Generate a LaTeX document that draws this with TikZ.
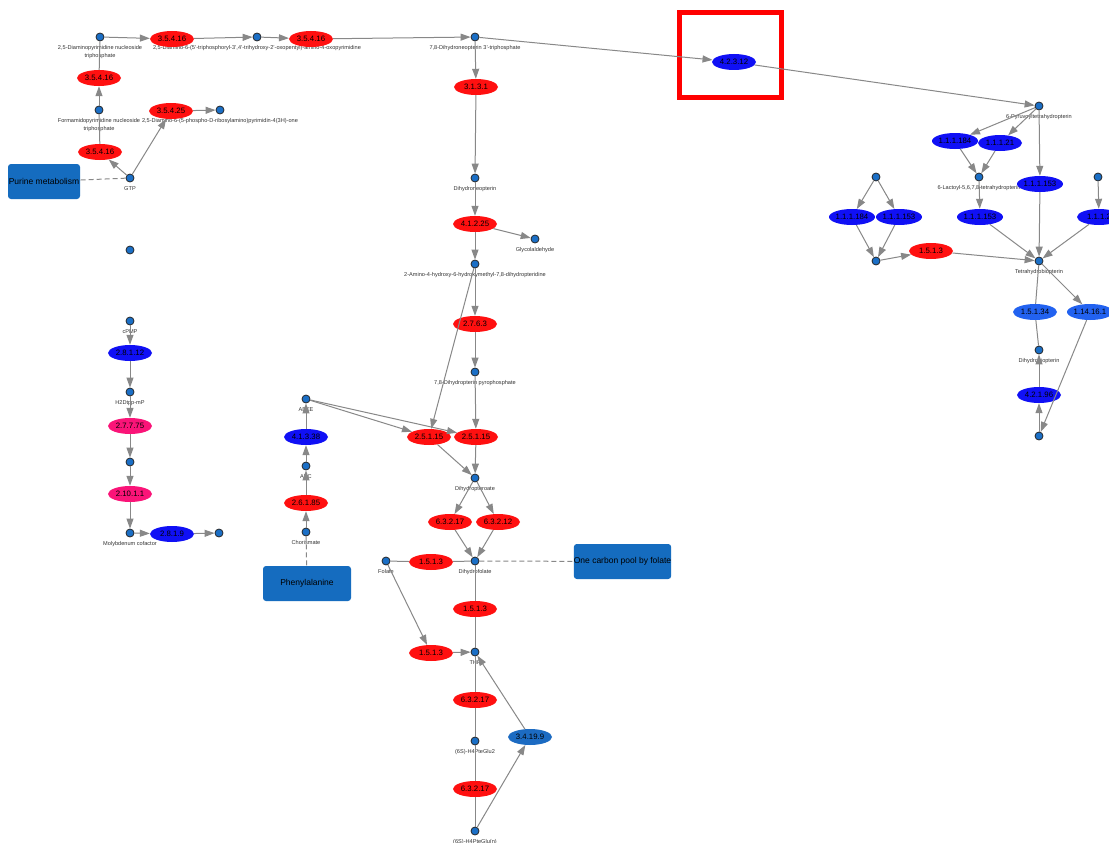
\documentclass[tikz,border=0pt]{standalone}
\usepackage{fontspec}
\setmainfont{Liberation Sans}
\usepackage{xcolor}
\usepackage{tikz}
\usetikzlibrary{arrows.meta,positioning,shapes.geometric}
\definecolor{enzred}{HTML}{FF1010}
\definecolor{enzblue}{HTML}{1010F5}
\definecolor{enzpink}{HTML}{FA1478}
\definecolor{enzroyal}{HTML}{2262F0}
\definecolor{enzsteel}{HTML}{1C6BC2}
\definecolor{cpdfill}{HTML}{1B6FC6}
\definecolor{mapfill}{HTML}{156CBF}
\definecolor{edgegray}{HTML}{888888}
\definecolor{labelgray}{HTML}{333333}

\begin{document}
\begin{tikzpicture}[x=1pt,y=-1pt,
  enz/.style={ellipse,minimum width=44pt,minimum height=16pt,inner sep=0pt,text=black,font=\fontsize{7.8}{8}\selectfont},
  ered/.style={enz,fill=enzred},
  eblue/.style={enz,fill=enzblue},
  epink/.style={enz,fill=enzpink},
  eroyal/.style={enz,fill=enzroyal},
  esteel/.style={enz,fill=enzsteel},
  cpd/.style={circle,draw=black!85,fill=cpdfill,line width=0.8pt,minimum size=8pt,inner sep=0pt},
  cpdlabel/.style={below=4pt of #1,inner sep=0pt,align=center,text=labelgray,font=\fontsize{5.6}{8}\selectfont},
  mapbox/.style={rounded corners=3pt,fill=mapfill,minimum height=35pt,inner sep=0pt,font=\fontsize{8.5}{10}\selectfont},
  rxn/.style={draw=edgegray,line width=1pt,-{Triangle[length=10pt,width=7pt]}},
  link/.style={draw=edgegray,line width=1pt},
  rel/.style={draw=edgegray,line width=1pt,dash pattern=on 5pt off 3pt},
]
\useasboundingbox[fill=white] (0,0) rectangle (1109,843);

% compounds
\node[cpd] (dapnt) at (100,37) {};
\node[cpdlabel=dapnt] (dapnt-l) {2,5-Diaminopyrimidine nucleoside\\triphosphate};
\node[cpd] (dadp) at (257,37) {};
\node[cpdlabel=dadp] (dadp-l) {2,5-Diamino-6-(5'-triphosphoryl-3',4'-trihydroxy-2'-oxopentyl)-amino-4-oxopyrimidine};
\node[cpd] (dhntp) at (475,37) {};
\node[cpdlabel=dhntp] (dhntp-l) {7,8-Dihydroneopterin 3'-triphosphate};
\node[cpd] (fapy) at (99,110) {};
\node[cpdlabel=fapy] (fapy-l) {Formamidopyrimidine nucleoside\\triphosphate};
\node[cpd] (darp) at (220,110) {};
\node[cpdlabel=darp] (darp-l) {2,5-Diamino-6-(5-phospho-D-ribosylamino)pyrimidin-4(3H)-one};
\node[cpd] (gtp) at (130,178) {};
\node[cpdlabel=gtp] (gtp-l) {GTP};
\node[cpd] (orphan) at (130,250) {};

\node[cpd] (cpmp) at (130,321) {};
\node[cpdlabel=cpmp] (cpmp-l) {cPMP};
\node[cpd] (h2dtpp) at (130,392) {};
\node[cpdlabel=h2dtpp] (h2dtpp-l) {H2Dtpp-mP};
\node[cpd] (mpt) at (130,462) {};
\node[cpd] (moco) at (130,533) {};
\node[cpdlabel=moco] (moco-l) {Molybdenum cofactor};
\node[cpd] (mocoout) at (219,533) {};

\node[cpd] (abee) at (306,399) {};
\node[cpdlabel=abee] (abee-l) {ABEE};
\node[cpd] (abc) at (306,466) {};
\node[cpdlabel=abc] (abc-l) {ABC};
\node[cpd] (chor) at (306,532) {};
\node[cpdlabel=chor] (chor-l) {Chorismate};

\node[cpd] (dhn) at (475,178) {};
\node[cpdlabel=dhn] (dhn-l) {Dihydroneopterin};
\node[cpd] (glyc) at (535,239) {};
\node[cpdlabel=glyc] (glyc-l) {Glycolaldehyde};
\node[cpd] (hmdp) at (475,264) {};
\node[cpdlabel=hmdp] (hmdp-l) {2-Amino-4-hydroxy-6-hydroxymethyl-7,8-dihydropteridine};
\node[cpd] (dhpp) at (475,372) {};
\node[cpdlabel=dhpp] (dhpp-l) {7,8-Dihydropterin pyrophosphate};
\node[cpd] (dhpt) at (475,478) {};
\node[cpdlabel=dhpt] (dhpt-l) {Dihydropteroate};
\node[cpd] (folate) at (386,561) {};
\node[cpdlabel=folate] (folate-l) {Folate};
\node[cpd] (dhf) at (475,561) {};
\node[cpdlabel=dhf] (dhf-l) {Dihydrofolate};
\node[cpd] (thf) at (475,652) {};
\node[cpdlabel=thf] (thf-l) {THF};
\node[cpd] (h4g2) at (475,741) {};
\node[cpdlabel=h4g2] (h4g2-l) {(6S)-H4PteGlu2};
\node[cpd] (h4gn) at (475,831) {};
\node[cpdlabel=h4gn] (h4gn-l) {(6S)-H4PteGlu(n)};

\node[cpd] (ptp) at (1039,106) {};
\node[cpdlabel=ptp] (ptp-l) {6-Pyruvoyltetrahydropterin};
\node[cpd] (lac) at (979,177) {};
\node[cpdlabel=lac] (lac-l) {6-Lactoyl-5,6,7,8-tetrahydropterin};
\node[cpd] (bh4) at (1039,261) {};
\node[cpdlabel=bh4] (bh4-l) {Tetrahydrobiopterin};
\node[cpd] (bh2) at (1039,350) {};
\node[cpdlabel=bh2] (bh2-l) {Dihydrobiopterin};
\node[cpd] (bh2src) at (1039,436) {};
\node[cpd] (lftop) at (876,177) {};
\node[cpd] (lfbot) at (876,261) {};
\node[cpd] (rttop) at (1098,177) {};

% enzymes
\node[ered] (ec35416a) at (172,39) {3.5.4.16};
\node[ered] (ec35416b) at (311,39) {3.5.4.16};
\node[ered] (ec35416c) at (99,78) {3.5.4.16};
\node[ered] (ec35416d) at (100,152) {3.5.4.16};
\node[ered] (ec35425) at (171,111) {3.5.4.25};

\node[eblue] (ec28112) at (130,353) {2.8.1.12};
\node[epink] (ec27775) at (130,426) {2.7.7.75};
\node[epink] (ec210111) at (130,494) {2.10.1.1};
\node[eblue] (ec2819) at (172,534) {2.8.1.9};

\node[eblue] (ec41338) at (306,437) {4.1.3.38};
\node[ered] (ec26185) at (306,503) {2.6.1.85};

\node[eblue] (ec42312) at (734,62) {4.2.3.12};
\node[ered] (ec3131) at (476,87) {3.1.3.1};
\node[ered] (ec41225) at (475,224) {4.1.2.25};
\node[ered] (ec2763) at (475,324) {2.7.6.3};
\node[ered] (ec25115a) at (429,437) {2.5.1.15};
\node[ered] (ec25115b) at (476,437) {2.5.1.15};
\node[ered] (ec63217a) at (450,522) {6.3.2.17};
\node[ered] (ec63212) at (498,522) {6.3.2.12};
\node[ered] (ec1513a) at (431,562) {1.5.1.3};
\node[ered] (ec1513b) at (475,609) {1.5.1.3};
\node[ered] (ec1513c) at (431,653) {1.5.1.3};
\node[ered] (ec63217b) at (475,700) {6.3.2.17};
\node[esteel] (ec34199) at (530,737) {3.4.19.9};
\node[ered] (ec63217c) at (475,789) {6.3.2.17};

\node[eblue] (ec111184a) at (955,141) {1.1.1.184};
\node[eblue] (ec11121) at (1000,143) {1.1.1.21};
\node[eblue] (ec111153a) at (1040,184) {1.1.1.153};
\node[eblue] (ec111153b) at (980,217) {1.1.1.153};
\node[eblue] (ec111184b) at (852,217) {1.1.1.184};
\node[eblue] (ec111153c) at (899,217) {1.1.1.153};
\node[eblue] (ec1112) at (1099,217) {1.1.1.2};
\node[ered] (ec1513d) at (931,251) {1.5.1.3};
\node[eroyal] (ec15134) at (1035,312) {1.5.1.34};
\node[eroyal] (ec114161) at (1090,312) {1.14.16.1};
\node[eblue] (ec42196) at (1039,395) {4.2.1.96};

% pathway maps
\node[mapbox,minimum width=72pt] (purine) at (44,181.5) {Purine metabolism};
\node[mapbox,minimum width=88pt] (phe) at (307,583.5) {Phenylalanine};
\node[mapbox,minimum width=93pt] (onecarbon) at (622.5,561.5) {One carbon pool by folate};

\node[draw=red,line width=5pt,minimum width=102pt,minimum height=85pt] (focus) at (730,55) {};

% purine branch
\draw[rel] (gtp) -- (purine);
\draw[rxn] (gtp) -- (ec35416d);
\draw[link] (ec35416d) -- (fapy);
\draw[rxn] (fapy) -- (ec35416c);
\draw[link] (ec35416c) -- (dapnt);
\draw[rxn] (gtp) -- (ec35425);
\draw[rxn] (ec35425) -- (darp);
\draw[rxn] (dapnt) -- (ec35416a);
\draw[rxn] (ec35416a) -- (dadp);
\draw[rxn] (dadp) -- (ec35416b);
\draw[rxn] (ec35416b) -- (dhntp);

% molybdenum cofactor
\draw[rxn] (cpmp) -- (ec28112);
\draw[rxn] (ec28112) -- (h2dtpp);
\draw[rxn] (h2dtpp) -- (ec27775);
\draw[rxn] (ec27775) -- (mpt);
\draw[rxn] (mpt) -- (ec210111);
\draw[rxn] (ec210111) -- (moco);
\draw[rxn] (moco) -- (ec2819);
\draw[rxn] (ec2819) -- (mocoout);

% chorismate to ABEE
\draw[rel] (chor) -- (phe);
\draw[rxn] (chor) -- (ec26185);
\draw[rxn] (ec26185) -- (abc);
\draw[rxn] (abc) -- (ec41338);
\draw[rxn] (ec41338) -- (abee);

% folate column
\draw[rxn] (dhntp) -- (ec3131);
\draw[rxn] (ec3131) -- (dhn);
\draw[rxn] (dhn) -- (ec41225);
\draw[rxn] (ec41225) -- (glyc);
\draw[rxn] (ec41225) -- (hmdp);
\draw[rxn] (hmdp) -- (ec2763);
\draw[rxn] (ec2763) -- (dhpp);
\draw[rxn] (hmdp) -- (ec25115a);
\draw[rxn] (dhpp) -- (ec25115b);
\draw[rxn] (abee) -- (ec25115a);
\draw[rxn] (abee) -- (ec25115b);
\draw[rxn] (ec25115a) -- (dhpt);
\draw[rxn] (ec25115b) -- (dhpt);
\draw[rxn] (dhpt) -- (ec63217a);
\draw[rxn] (dhpt) -- (ec63212);
\draw[rxn] (ec63217a) -- (dhf);
\draw[rxn] (ec63212) -- (dhf);
\draw[rel] (dhf) -- (onecarbon);
\draw[link] (folate) -- (ec1513a) -- (dhf);
\draw[link] (dhf) -- (ec1513b) -- (thf);
\draw[rxn] (folate) -- (ec1513c);
\draw[rxn] (ec1513c) -- (thf);
\draw[link] (thf) -- (ec63217b) -- (h4g2) -- (ec63217c) -- (h4gn);
\draw[rxn] (h4gn) -- (ec34199);
\draw[rxn] (ec34199) -- (thf);

% biopterin
\draw[rxn] (dhntp) -- (ec42312);
\draw[rxn] (ec42312) -- (ptp);
\draw[rxn] (ptp) -- (ec111184a);
\draw[rxn] (ptp) -- (ec11121);
\draw[rxn] (ptp) -- (ec111153a);
\draw[rxn] (ec111184a) -- (lac);
\draw[rxn] (ec11121) -- (lac);
\draw[rxn] (lac) -- (ec111153b);
\draw[rxn] (ec111153b) -- (bh4);
\draw[rxn] (ec111153a) -- (bh4);
\draw[rxn] (rttop) -- (ec1112);
\draw[rxn] (ec1112) -- (bh4);
\draw[rxn] (lftop) -- (ec111184b);
\draw[rxn] (lftop) -- (ec111153c);
\draw[rxn] (ec111184b) -- (lfbot);
\draw[rxn] (ec111153c) -- (lfbot);
\draw[rxn] (lfbot) -- (ec1513d);
\draw[rxn] (ec1513d) -- (bh4);
\draw[link] (bh4) -- (ec15134) -- (bh2);
\draw[rxn] (bh4) -- (ec114161);
\draw[rxn] (ec114161) -- (bh2src);
\draw[rxn] (bh2src) -- (ec42196);
\draw[rxn] (ec42196) -- (bh2);
\end{tikzpicture}
\end{document}
